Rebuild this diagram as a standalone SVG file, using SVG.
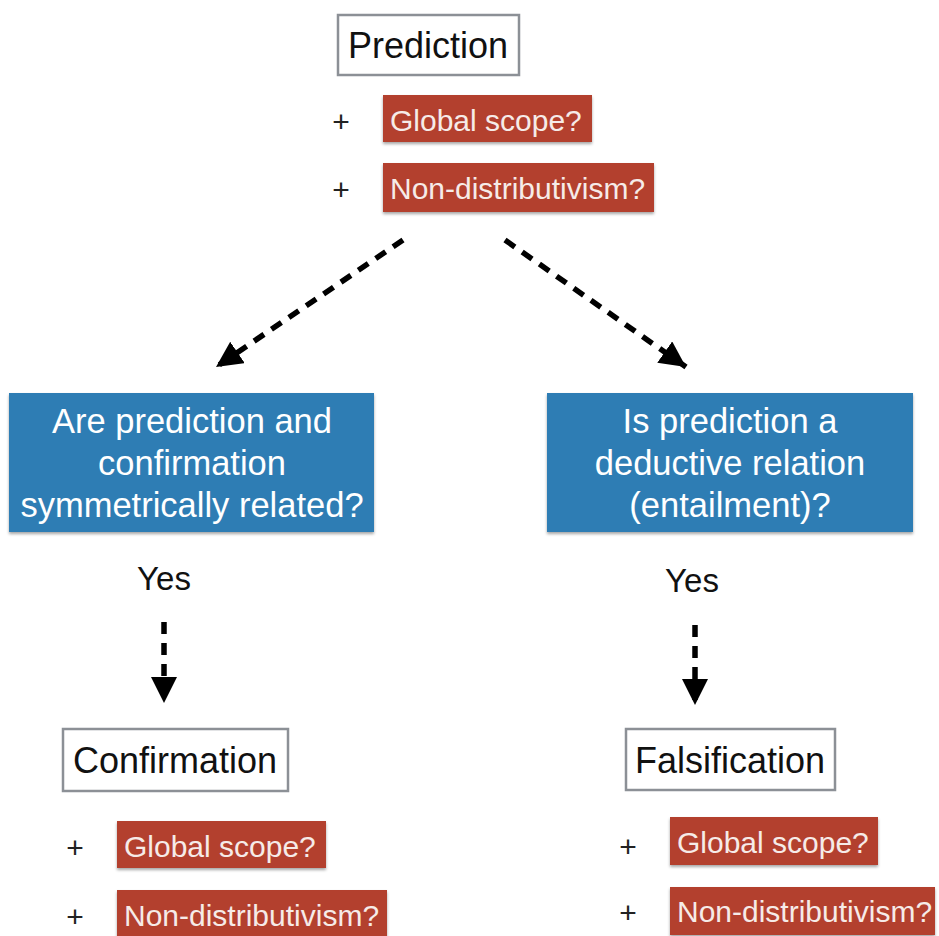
<svg xmlns="http://www.w3.org/2000/svg" width="939" height="936" viewBox="0 0 939 936">
<style>
text{font-family:"Liberation Sans",Arial,sans-serif}
.wbox{fill:#fff;stroke:#8c9096;stroke-width:2.5}
.red{fill:#b3402d;filter:url(#sh)}
.blue{fill:#2f7db4;filter:url(#sh)}
.t36{font-size:36px;fill:#111}
.rt{font-size:30px;fill:#f6ebe8}
.bt{font-size:34.5px;fill:#fff;text-anchor:middle}
.plus{font-size:30px;fill:#222;text-anchor:middle}
.yes{font-size:33px;fill:#111;text-anchor:middle}
.dash{stroke:#000;stroke-width:5.5;stroke-dasharray:12 9;fill:none}
</style>
<defs>
<filter id="sh" x="-5%" y="-10%" width="110%" height="125%">
<feDropShadow dx="0" dy="2" stdDeviation="1.5" flood-color="#000" flood-opacity="0.35"/>
</filter>
<marker id="ah" markerUnits="userSpaceOnUse" markerWidth="30" markerHeight="30" refX="26" refY="13" orient="auto">
<path d="M0,0 L26,13 L0,26 Z" fill="#000"/>
</marker>
</defs>
<rect width="939" height="936" fill="#fff"/>

<g id="connectors">
<line class="dash" x1="403" y1="240" x2="216" y2="367" marker-end="url(#ah)"/>
<line class="dash" x1="505" y1="240" x2="686" y2="367" marker-end="url(#ah)"/>
<line class="dash" x1="164" y1="622" x2="164" y2="703" marker-end="url(#ah)"/>
<line class="dash" x1="695" y1="625" x2="695" y2="705" marker-end="url(#ah)"/>
</g>

<g id="prediction">
<rect class="wbox" x="338" y="15" width="181" height="60"/>
<text class="t36" x="348" y="58">Prediction</text>
</g>
<g id="pred-global">
<text class="plus" x="341" y="132">+</text>
<rect class="red" x="383" y="95" width="209" height="47"/>
<text class="rt" x="390" y="131">Global scope?</text>
</g>
<g id="pred-nondist">
<text class="plus" x="341" y="200">+</text>
<rect class="red" x="383" y="163" width="271" height="49"/>
<text class="rt" x="390" y="199">Non-distributivism?</text>
</g>

<g id="q-symmetric">
<rect class="blue" x="9" y="393" width="365" height="139"/>
<text class="bt" x="192" y="433">Are prediction and</text>
<text class="bt" x="192" y="475">confirmation</text>
<text class="bt" x="192" y="517">symmetrically related?</text>
</g>
<g id="q-deductive">
<rect class="blue" x="547" y="393" width="366" height="139"/>
<text class="bt" x="730" y="433">Is prediction a</text>
<text class="bt" x="730" y="475">deductive relation</text>
<text class="bt" x="730" y="517">(entailment)?</text>
</g>

<g id="yes-left"><text class="yes" x="164" y="590">Yes</text></g>
<g id="yes-right"><text class="yes" x="692" y="592">Yes</text></g>

<g id="confirmation">
<rect class="wbox" x="63" y="729" width="225" height="62"/>
<text class="t36" x="73" y="773">Confirmation</text>
</g>
<g id="conf-global">
<text class="plus" x="75" y="858">+</text>
<rect class="red" x="117" y="821" width="209" height="47"/>
<text class="rt" x="124" y="857">Global scope?</text>
</g>
<g id="conf-nondist">
<text class="plus" x="75" y="927">+</text>
<rect class="red" x="117" y="890" width="270" height="50"/>
<text class="rt" x="124" y="926">Non-distributivism?</text>
</g>

<g id="falsification">
<rect class="wbox" x="626" y="729" width="209" height="61"/>
<text class="t36" x="635" y="773">Falsification</text>
</g>
<g id="fals-global">
<text class="plus" x="628" y="857">+</text>
<rect class="red" x="670" y="817" width="208" height="48"/>
<text class="rt" x="677" y="853">Global scope?</text>
</g>
<g id="fals-nondist">
<text class="plus" x="628" y="923">+</text>
<rect class="red" x="670" y="887" width="265" height="48"/>
<text class="rt" x="677" y="922">Non-distributivism?</text>
</g>
</svg>
